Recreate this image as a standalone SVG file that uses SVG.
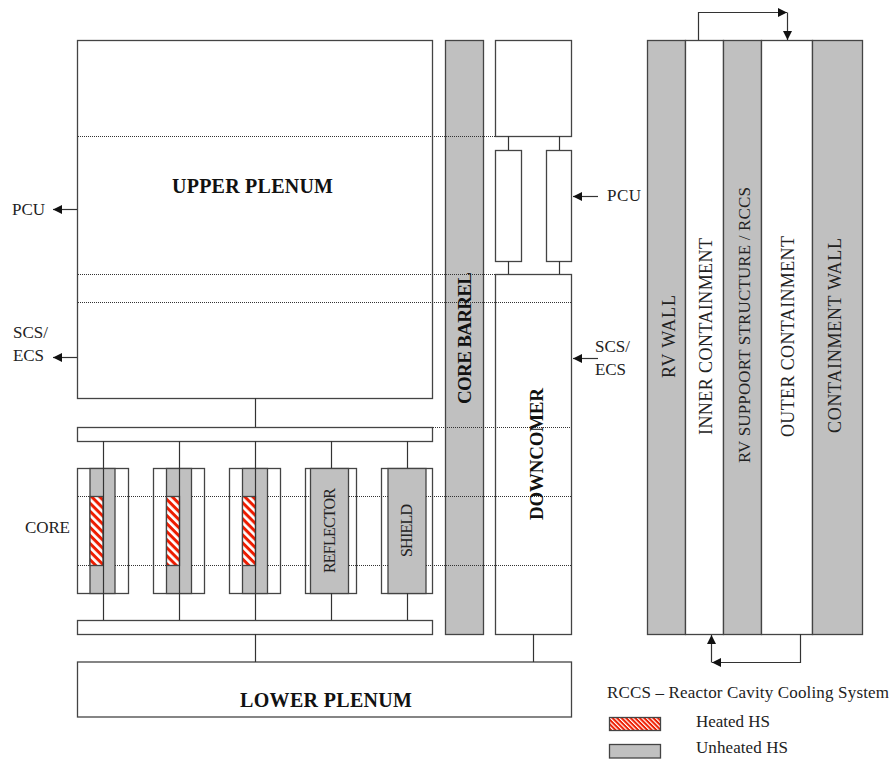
<svg xmlns="http://www.w3.org/2000/svg" width="893" height="761" viewBox="0 0 893 761">
<style>
rect.w,rect.g,rect.h,rect.hl{stroke:#444;stroke-width:1.3}
.w{fill:#fff}.g{fill:#c0c0c0}.h{fill:url(#hatch)}.hl{fill:url(#hatchSmall)}
.c path,.c line{fill:none;stroke:#333;stroke-width:1.2}
.d line{stroke:#333;stroke-width:1;stroke-dasharray:1 1}
.ar{marker-end:url(#arrow)}
text{font-family:"Liberation Serif","Times New Roman",serif;font-size:17px;fill:#222}
.b{font-weight:bold;font-size:19px;fill:#111}
.p{font-size:20px}
.t{font-size:18px}
.s{font-size:16px}
</style>
<defs>
<pattern id="hatch" width="5.7" height="5.7" patternUnits="userSpaceOnUse" patternTransform="rotate(45)"><rect width="5.7" height="5.7" fill="#fff"/><rect width="5.7" height="3" fill="#ee1c00"/></pattern>
<pattern id="hatchSmall" width="3.2" height="3.2" patternUnits="userSpaceOnUse" patternTransform="rotate(45)"><rect width="3.2" height="3.2" fill="#fff"/><rect width="3.2" height="2" fill="#ee1c00"/></pattern>
<marker id="arrow" markerWidth="10" markerHeight="10" refX="9" refY="5" orient="auto" markerUnits="userSpaceOnUse"><path d="M0 0.500L9 5L0 9.500Z" fill="#111"/></marker>
</defs>
<rect width="893" height="761" fill="#fff"/>
<g id="upper-plenum"><rect class="w" x="77.500" y="40.500" width="355" height="358"/><text class="b p" x="172" y="193" textLength="161">UPPER PLENUM</text></g>
<g id="upper-bar"><rect class="w" x="77.500" y="427.500" width="355" height="14"/></g>
<g id="lower-bar"><rect class="w" x="77.500" y="620.500" width="355" height="14"/></g>
<g id="lower-plenum"><rect class="w" x="77.500" y="662" width="494" height="55"/><text class="b p" x="240" y="707" textLength="172">LOWER PLENUM</text></g>
<g id="core-1"><rect class="w" x="77.500" y="468.500" width="51" height="125"/><rect class="g" x="90" y="468.500" width="25" height="125"/><rect class="h" x="90" y="496.500" width="13" height="69"/></g>
<g id="core-2"><rect class="w" x="153.500" y="468.500" width="51" height="125"/><rect class="g" x="166.500" y="468.500" width="25" height="125"/><rect class="h" x="166.500" y="496.500" width="13" height="69"/></g>
<g id="core-3"><rect class="w" x="229.500" y="468.500" width="51" height="125"/><rect class="g" x="242.500" y="468.500" width="25" height="125"/><rect class="h" x="242.500" y="496.500" width="13" height="69"/></g>
<g id="reflector"><rect class="w" x="305.500" y="468.500" width="51" height="125"/><rect class="g" x="310.500" y="468.500" width="38" height="125"/><text class="s" transform="translate(335 573) rotate(-90)" textLength="85">REFLECTOR</text></g>
<g id="shield"><rect class="w" x="381.500" y="468.500" width="51" height="125"/><rect class="g" x="388" y="468.500" width="38" height="125"/><text class="s" transform="translate(412 557) rotate(-90)" textLength="53">SHIELD</text></g>
<g id="core-barrel"><rect class="g" x="445.500" y="40.500" width="38" height="594"/></g>
<g id="downcomer-top"><rect class="w" x="495.500" y="40.500" width="76" height="96"/></g>
<g id="downcomer-left"><rect class="w" x="495.500" y="150.500" width="26" height="111"/></g>
<g id="downcomer-right"><rect class="w" x="546.500" y="150.500" width="25" height="111"/></g>
<g id="downcomer"><rect class="w" x="495.500" y="274.500" width="76" height="360"/></g>
<g id="rv-wall"><rect class="g" x="647.500" y="40.500" width="38" height="594"/><text class="t" transform="translate(675 378) rotate(-90)" textLength="83">RV WALL</text></g>
<g id="inner-containment"><rect class="w" x="685.500" y="40.500" width="38" height="594"/><text class="t" transform="translate(712 435) rotate(-90)" textLength="197">INNER CONTAINMENT</text></g>
<g id="rv-support"><rect class="g" x="723.500" y="40.500" width="38" height="594"/><text transform="translate(750 463) rotate(-90)" textLength="276">RV SUPPOORT STRUCTURE / RCCS</text></g>
<g id="outer-containment"><rect class="w" x="761.500" y="40.500" width="51" height="594"/><text class="t" transform="translate(794 437) rotate(-90)" textLength="201">OUTER CONTAINMENT</text></g>
<g id="containment-wall"><rect class="g" x="812.500" y="40.500" width="50" height="594"/><text class="t" transform="translate(841 433) rotate(-90)" textLength="195">CONTAINMENT WALL</text></g>
<g class="d" id="dotted">
<line x1="78" y1="136.500" x2="495" y2="136.500"/>
<line x1="78" y1="274.500" x2="495" y2="274.500"/>
<line x1="78" y1="302.500" x2="571" y2="302.500"/>
<line x1="433" y1="427.500" x2="571" y2="427.500"/>
<line x1="78" y1="496.500" x2="90" y2="496.500"/><line x1="115" y1="496.500" x2="166" y2="496.500"/><line x1="192" y1="496.500" x2="242" y2="496.500"/><line x1="268" y1="496.500" x2="310" y2="496.500"/><line x1="349" y1="496.500" x2="388" y2="496.500"/><line x1="426" y1="496.500" x2="571" y2="496.500"/>
<line x1="78" y1="565.500" x2="90" y2="565.500"/><line x1="115" y1="565.500" x2="166" y2="565.500"/><line x1="192" y1="565.500" x2="242" y2="565.500"/><line x1="268" y1="565.500" x2="310" y2="565.500"/><line x1="349" y1="565.500" x2="388" y2="565.500"/><line x1="426" y1="565.500" x2="571" y2="565.500"/>
</g>
<g class="c" id="connectors">
<line x1="255.500" y1="398" x2="255.500" y2="427"/>
<line x1="103.500" y1="441" x2="103.500" y2="620"/>
<line x1="179.500" y1="441" x2="179.500" y2="620"/>
<line x1="255.500" y1="441" x2="255.500" y2="620"/>
<line x1="331.500" y1="441" x2="331.500" y2="468"/>
<line x1="331.500" y1="593" x2="331.500" y2="620"/>
<line x1="407.500" y1="441" x2="407.500" y2="468"/>
<line x1="407.500" y1="593" x2="407.500" y2="620"/>
<line x1="255.500" y1="634" x2="255.500" y2="662"/>
<line x1="533.500" y1="634" x2="533.500" y2="662"/>
<line x1="508.500" y1="136" x2="508.500" y2="150"/>
<line x1="559.500" y1="136" x2="559.500" y2="150"/>
<line x1="508.500" y1="261" x2="508.500" y2="274"/>
<line x1="559.500" y1="261" x2="559.500" y2="274"/>
<path class="ar" d="M77 209.500H53"/>
<path class="ar" d="M77 357.500H53"/>
<path class="ar" d="M598 196.500H573"/>
<path class="ar" d="M598 358.500H573"/>
<path class="ar" d="M698.500 40V12.500H787"/>
<path class="ar" d="M787.500 12.500V40"/>
<path class="ar" d="M800.500 634V662.500H712"/>
<path class="ar" d="M711.500 662.500V635"/>
</g>
<g id="labels">
<text x="12" y="215" textLength="33">PCU</text>
<text x="13" y="338" textLength="35">SCS/</text>
<text x="13" y="361" textLength="31">ECS</text>
<text x="607" y="201" textLength="34">PCU</text>
<text x="595" y="352" textLength="35">SCS/</text>
<text x="595" y="375" textLength="31">ECS</text>
<text x="25" y="533" textLength="45">CORE</text>
<text class="b" transform="translate(471 404) rotate(-90)" textLength="132">CORE BARREL</text>
<text class="b" transform="translate(543 520) rotate(-90)" textLength="132">DOWNCOMER</text>
<text x="607" y="698" textLength="282">RCCS – Reactor Cavity Cooling System</text>
<text x="696" y="727" textLength="74">Heated HS</text>
<text x="696" y="753" textLength="92">Unheated HS</text>
</g>
<g id="legend-heated"><rect class="hl" x="609.500" y="717.500" width="51" height="13"/></g>
<g id="legend-unheated"><rect class="g" x="609.500" y="744.500" width="51" height="13.500"/></g>
</svg>
